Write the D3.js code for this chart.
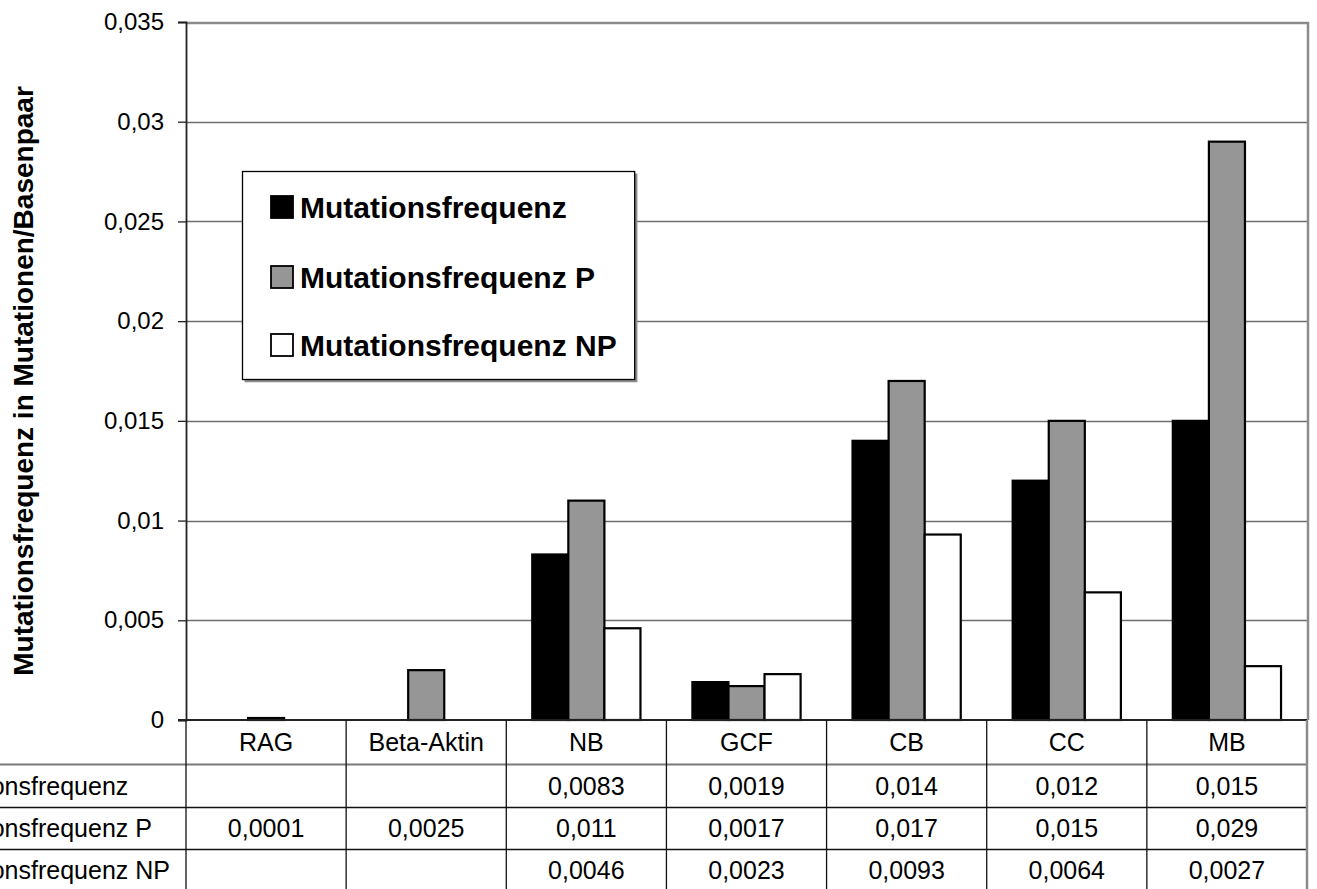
<!DOCTYPE html>
<html>
<head>
<meta charset="utf-8">
<script src="https://cdnjs.cloudflare.com/ajax/libs/d3/7.8.5/d3.min.js"></script>
<style>
  html, body { margin: 0; padding: 0; background: #fff; }
  svg { display: block; font-family: "Liberation Sans", Arial, sans-serif; }
</style>
</head>
<body>
<svg id="chart" width="1317" height="889"></svg>
<script>
// Categories and series
const categories = ["RAG", "Beta-Aktin", "NB", "GCF", "CB", "CC", "MB"];
const seriesNames = ["Mutationsfrequenz", "Mutationsfrequenz P", "Mutationsfrequenz NP"];
const seriesColors = ["#000000", "#969696", "#ffffff"];

// Values per series (null = no value)
const mutFreq   = [null, null, 0.0083, 0.0019, 0.014, 0.012, 0.015];
const mutFreqP  = [0.0001, 0.0025, 0.011, 0.0017, 0.017, 0.015, 0.029];
const mutFreqNP = [null, null, 0.0046, 0.0023, 0.0093, 0.0064, 0.0027];
const seriesValues = [mutFreq, mutFreqP, mutFreqNP];

// Table cell labels
const cellLabels = [
  ["", "", "0,0083", "0,0019", "0,014", "0,012", "0,015"],
  ["0,0001", "0,0025", "0,011", "0,0017", "0,017", "0,015", "0,029"],
  ["", "", "0,0046", "0,0023", "0,0093", "0,0064", "0,0027"]
];

const yTicks = [0, 0.005, 0.01, 0.015, 0.02, 0.025, 0.03, 0.035];
const yTickLabels = ["0", "0,005", "0,01", "0,015", "0,02", "0,025", "0,03", "0,035"];

const svg = d3.select("#chart");
const plotL = 186, plotR = 1307, plotT = 22, plotB = 720;
const tableFont = 25;

const x = d3.scaleBand().domain(categories).range([plotL, plotR]).padding(0);
const xs = d3.scaleBand().domain(d3.range(seriesNames.length))
  .range([0, x.bandwidth()]).paddingInner(0).paddingOuter(0.72);
const y = d3.scaleLinear().domain([0, 0.035]).range([plotB, plotT]);

// Gridlines
svg.append("g").selectAll("line").data(yTicks.slice(1, -1)).join("line")
  .attr("x1", plotL).attr("x2", plotR)
  .attr("y1", d => Math.round(y(d)) + 0.5).attr("y2", d => Math.round(y(d)) + 0.5)
  .attr("stroke", "#6e6e6e").attr("stroke-width", 1.3);

// Plot frame (top and right)
svg.append("path")
  .attr("d", `M${plotL},${plotT + 1} H${plotR + 1} V${plotB}`)
  .attr("fill", "none").attr("stroke", "#8c8c8c").attr("stroke-width", 2.5);

// Bars
const groups = svg.append("g").selectAll("g").data(seriesValues).join("g")
  .attr("fill", (d, i) => seriesColors[i]);
groups.each(function (vals, si) {
  d3.select(this).selectAll("rect")
    .data(vals.map((v, ci) => ({ v, c: categories[ci] })).filter(d => d.v !== null))
    .join("rect")
    .attr("x", d => x(d.c) + xs(si))
    .attr("width", xs.bandwidth())
    .attr("y", d => y(d.v))
    .attr("height", d => y(0) - y(d.v))
    .attr("stroke", "#000").attr("stroke-width", 2.2);
});

// Y axis
const yAxis = d3.axisLeft(y).tickValues(yTicks)
  .tickFormat((d, i) => yTickLabels[i]).tickSize(8).tickPadding(14);
const ya = svg.append("g").attr("transform", `translate(${plotL},0)`).call(yAxis);
ya.select(".domain").attr("stroke", "#222").attr("stroke-width", 1.8);
ya.selectAll(".tick line").attr("stroke", "#222").attr("stroke-width", 1.3);
ya.selectAll(".tick text").attr("font-size", 24).attr("fill", "#000")
  .attr("font-family", "Liberation Sans, Arial, sans-serif");

// Baseline
svg.append("line").attr("x1", plotL - 8).attr("x2", plotR)
  .attr("y1", plotB).attr("y2", plotB)
  .attr("stroke", "#222").attr("stroke-width", 2);

// Y title
svg.append("text")
  .attr("transform", `translate(33,381) rotate(-90)`)
  .attr("text-anchor", "middle").attr("font-weight", "bold").attr("font-size", 28)
  .text("Mutationsfrequenz in Mutationen/Basenpaar");

// Data table
const rowLines = [764, 807, 849];
const rowCenters = [742, 786, 828, 870];
const table = svg.append("g");
table.selectAll("line.h").data(rowLines).join("line")
  .attr("x1", 0).attr("x2", plotR)
  .attr("y1", d => d + 0.5).attr("y2", d => d + 0.5)
  .attr("stroke", (d, i) => i === 0 ? "#7a7a7a" : "#111")
  .attr("stroke-width", (d, i) => i === 0 ? 2 : 1.3);
const vxs = categories.map(c => x(c)).concat([plotR]);
table.selectAll("line.v").data(vxs).join("line")
  .attr("x1", d => d).attr("x2", d => d)
  .attr("y1", plotB).attr("y2", 889)
  .attr("stroke", (d, i) => i === vxs.length - 1 ? "#8c8c8c" : "#111")
  .attr("stroke-width", (d, i) => i === vxs.length - 1 ? 2.5 : 1.3);

table.selectAll("text.cat").data(categories).join("text")
  .attr("x", d => x(d) + x.bandwidth() / 2).attr("y", rowCenters[0])
  .attr("dy", "0.36em").attr("text-anchor", "middle").attr("font-size", tableFont)
  .text(d => d);

cellLabels.forEach((row, ri) => {
  table.append("g").selectAll("text").data(row).join("text")
    .attr("x", (d, ci) => x(categories[ci]) + x.bandwidth() / 2)
    .attr("y", rowCenters[ri + 1]).attr("dy", "0.36em")
    .attr("text-anchor", "middle").attr("font-size", tableFont)
    .text(d => d);
});

// Row labels, left aligned, running off the left edge
const rowLabelEls = seriesNames.map((name, i) =>
  table.append("text").attr("y", rowCenters[i + 1]).attr("dy", "0.36em")
    .attr("font-size", tableFont).text(name));
const widest = d3.max(rowLabelEls, t => t.node().getComputedTextLength());
rowLabelEls.forEach(t => t.attr("x", 170 - widest));

// Legend
const legend = svg.append("g");
const legX = 242.5, legY = 171.5, legH = 208;
const legRows = [207, 277, 345];
const legShadow = legend.append("path").attr("fill", "none")
  .attr("stroke", "#8c8c8c").attr("stroke-width", 2.5);
const legBox = legend.append("rect").attr("x", legX).attr("y", legY).attr("height", legH)
  .attr("fill", "#fff").attr("stroke", "#000").attr("stroke-width", 1.3);
const legTexts = seriesNames.map((name, i) => {
  legend.append("rect").attr("x", 271).attr("y", legRows[i] - 11).attr("width", 22).attr("height", 22)
    .attr("fill", seriesColors[i]).attr("stroke", "#000").attr("stroke-width", 1.8);
  return legend.append("text").attr("x", 300).attr("y", legRows[i]).attr("dy", "0.36em")
    .attr("font-weight", "bold").attr("font-size", 30).text(name);
});
const legTextW = d3.max(legTexts, t => t.node().getComputedTextLength());
const legW = 300 + legTextW + 18 - legX;
legBox.attr("width", legW);
legShadow.attr("d", `M${legX + 2},${legY + legH + 1.5} H${legX + legW + 1.5} V${legY + 2}`);
</script>
</body>
</html>
